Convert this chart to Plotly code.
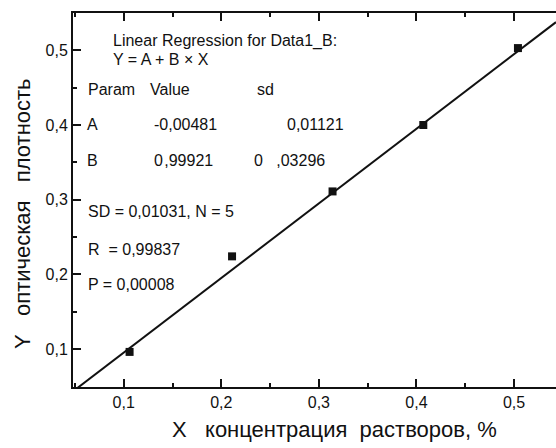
import plotly.graph_objects as go

# Data
x_conc = [0.106, 0.211, 0.314, 0.407, 0.504]
y_od = [0.096, 0.224, 0.311, 0.400, 0.503]

# Regression parameters (from the printed table)
A = -0.00481
B = 0.99921
fit_x = [0.048, 0.543]
fit_y = [A + B * v for v in fit_x]

x_range = [0.048, 0.543]
y_range = [0.049, 0.55]
tick_start, tick_step = 0.1, 0.1
minor_step = 0.05

NB = "\u00a0"
title_lines = ["Linear Regression for Data1_B:", "Y = A + B × X"]
table_header = ["Param", "Value", "sd"]
table_rows = [["A", "-0,00481", "0,01121"],
              ["B", "0\u200a,99921", "0" + NB * 3 + ",03296"]]
stats_lines = ["SD = 0,01031, N = 5", "R" + NB * 2 + "= 0,99837", "P = 0,00008"]

x_title = "X" + NB * 3 + "концентрация" + NB * 2 + "растворов, %"
y_title = "Y" + NB * 3 + "оптическая" + NB * 3 + "плотность"

FONT = "Liberation Sans, Arial, sans-serif"
INK = "#111111"

fig = go.Figure()
fig.add_trace(go.Scatter(x=fit_x, y=fit_y, mode="lines",
                         line=dict(color=INK, width=2), showlegend=False, hoverinfo="skip"))
fig.add_trace(go.Scatter(x=x_conc, y=y_od, mode="markers",
                         marker=dict(symbol="square", size=8, color=INK),
                         showlegend=False))

L, T, W, H = 73, 13, 556, 448
BOT = 387
PW, PH = W - L, BOT - T


def px(xp):
    return (xp - L) / PW


def py(yp):
    return (BOT - yp) / PH


ann = []


def add(text, xp, yp, size=16, anchor="left", angle=0):
    ann.append(dict(text=text, x=px(xp), y=py(yp), xref="paper", yref="paper",
                    xanchor=anchor, yanchor="middle", showarrow=False, textangle=angle,
                    font=dict(family=FONT, size=size, color=INK)))


add(title_lines[0], 111, 41)
add(title_lines[1], 111, 60)
for txt, xp in zip(table_header, [86, 148, 255]):
    add(txt, xp, 89)
for row, yp in zip(table_rows, [125, 160]):
    for txt, xp in zip(row, [85, 152, 285 if row[0] == "A" else 252]):
        add(txt, xp, yp)
for txt, yp in zip(stats_lines, [211, 249, 284]):
    add(txt, 86, yp)

add(x_title, 334, 429, size=22, anchor="center")
add(y_title, 23, 214, size=22, anchor="center", angle=-90)

axis_common = dict(showgrid=False, zeroline=False, showline=True, linecolor=INK,
                   linewidth=2, ticks="inside", ticklen=8, tickwidth=1.5,
                   tickcolor=INK, tickfont=dict(family=FONT, size=16, color=INK),
                   tickmode="linear", tick0=tick_start, dtick=tick_step,
                   minor=dict(ticks="inside", ticklen=4, tickwidth=1.5, tickcolor=INK,
                              dtick=minor_step, showgrid=False))

fig.update_xaxes(range=x_range, mirror="ticks", **axis_common)
fig.update_yaxes(range=y_range, mirror=False, **axis_common)

fig.update_layout(width=W, height=H, margin=dict(l=L, r=0, t=T, b=H - BOT),
                  plot_bgcolor="white", paper_bgcolor="white", separators=", ",
                  annotations=ann, font=dict(family=FONT, color=INK))

fig.write_html("out.html", config={"displayModeBar": False},
               post_script="document.body.style.margin='0';")
